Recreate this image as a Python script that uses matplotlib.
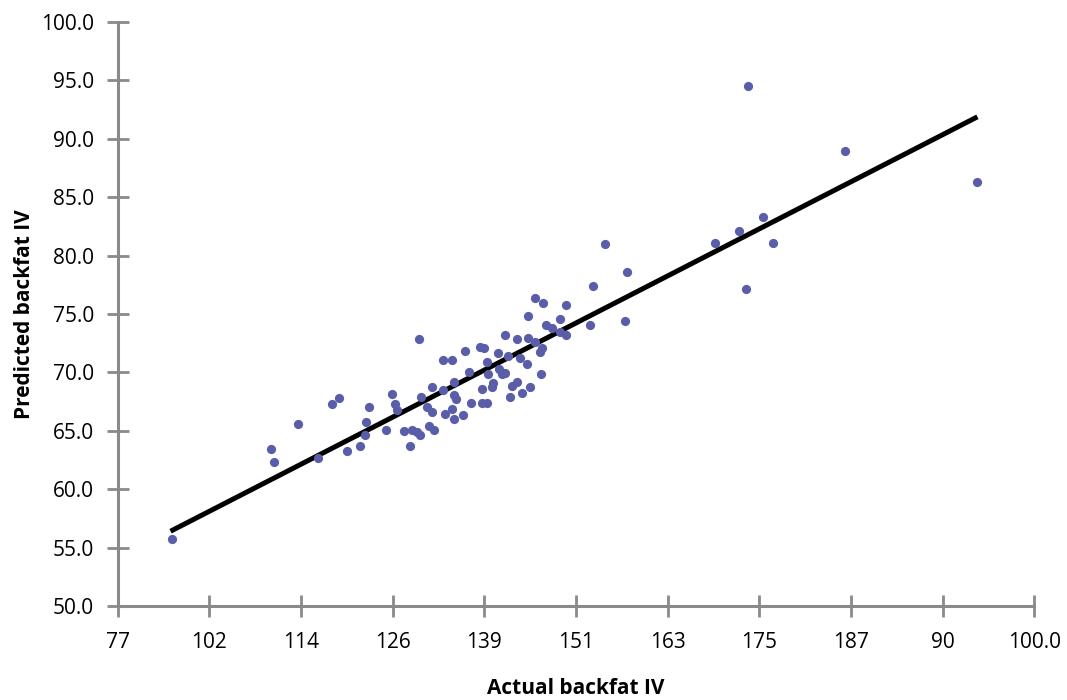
import matplotlib
matplotlib.use("Agg")
import matplotlib.pyplot as plt

plt.rcParams['font.family'] = ['Open Sans', 'DejaVu Sans']

# actual vs predicted backfat IV
actual = [97.06, 110.08, 110.48, 113.66, 116.28, 118.11, 118.99, 120.07, 121.73, 122.52,
          122.35, 122.91, 125.14, 125.92, 126.36, 126.62, 127.50, 128.32, 128.50, 129.16,
          129.59, 129.66, 130.44, 131.10, 130.77, 131.36, 129.46, 131.20, 132.64, 134.08,
          134.07, 134.33, 132.86, 133.78, 135.18, 134.02, 132.60, 133.74, 135.94, 135.48,
          137.45, 137.97, 136.24, 137.68, 137.67, 138.34, 139.08, 139.06, 138.36, 138.45,
          139.74, 139.87, 140.29, 140.72, 140.72, 141.11, 141.31, 141.61, 142.22, 142.22,
          142.68, 142.91, 143.57, 143.73, 143.73, 143.93, 144.61, 144.62, 145.39, 145.24,
          145.54, 145.73, 146.09, 146.85, 147.85, 147.96, 148.68, 148.70, 151.85, 152.28,
          153.77, 156.40, 156.66, 168.25, 171.34, 172.32, 172.56, 174.48, 175.74, 185.23,
          202.55]
predicted = [55.74, 63.42, 62.34, 65.56, 62.68, 67.28, 67.82, 63.28, 63.68, 65.71,
             64.60, 67.05, 65.11, 68.19, 67.30, 66.82, 64.99, 63.68, 65.05, 64.91,
             64.65, 67.88, 67.00, 66.57, 65.39, 65.11, 72.82, 68.71, 68.48, 69.14,
             68.07, 67.69, 66.48, 66.83, 66.32, 65.97, 71.10, 71.10, 70.03, 71.80,
             72.20, 72.05, 67.39, 68.62, 67.39, 67.39, 69.05, 68.73, 70.93, 69.82,
             71.69, 70.25, 69.89, 69.91, 73.16, 71.43, 67.90, 68.84, 69.16, 72.82,
             71.19, 68.26, 70.74, 72.91, 74.79, 68.71, 76.35, 72.57, 69.82, 71.73,
             72.13, 75.92, 74.04, 73.76, 73.42, 74.60, 75.74, 73.23, 74.04, 77.41,
             81.00, 74.41, 78.62, 81.09, 82.11, 77.10, 94.53, 83.29, 81.09, 88.94,
             86.28]

# regression line end points
fit_x = [96.93, 202.55]
fit_y = [56.40, 91.88]

x_ticks = [90, 102, 114, 126, 138, 150, 162, 174, 186, 198, 210]
x_labels = ['77', '102', '114', '126', '139', '151', '163', '175', '187', '90', '100.0']
y_ticks = [50, 55, 60, 65, 70, 75, 80, 85, 90, 95, 100]

grey = '#8a8a8a'

fig = plt.figure(figsize=(10.67, 7.0), dpi=100)
ax = fig.add_axes([0.1102, 0.1343, 0.8592, 0.8343])

ax.plot(fit_x, fit_y, color='black', lw=3.6, solid_capstyle='butt', zorder=2)
ax.scatter(actual, predicted, s=44, color='#5a5ea8', linewidths=0, zorder=3)

ax.set_xlim(90, 210)
ax.set_ylim(50, 100)
ax.set_xticks(x_ticks)
ax.set_xticklabels(x_labels)
ax.set_yticks(y_ticks)
ax.set_yticklabels([f'{v:.1f}' for v in y_ticks])

for side in ['top', 'right']:
    ax.spines[side].set_visible(False)
for side in ['left', 'bottom']:
    ax.spines[side].set_color(grey)
    ax.spines[side].set_linewidth(2.2)
    ax.spines[side].set_zorder(1)

ax.tick_params(axis='both', direction='inout', length=16, width=2, color=grey,
               labelsize=15, labelcolor='black')
ax.tick_params(axis='x', pad=11)
ax.tick_params(axis='y', pad=9)
for lab in ax.get_xticklabels() + ax.get_yticklabels():
    lab.set_clip_on(False)

fig.text(0.5398, 0.017, 'Actual backfat IV', ha='center', va='center',
         fontsize=15, fontweight='bold')
fig.text(0.0234, 0.5514, 'Predicted backfat IV', ha='center', va='center',
         rotation=90, fontsize=15, fontweight='bold')

fig.savefig('out.png', dpi=100)
